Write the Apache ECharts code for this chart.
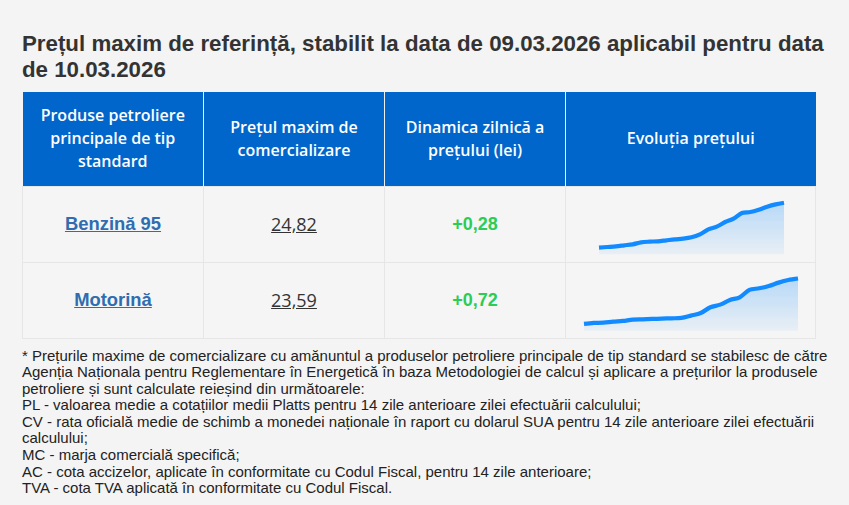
<!DOCTYPE html>
<html>
<head>
<meta charset="utf-8">
<script src="https://cdn.jsdelivr.net/npm/echarts@6/dist/echarts.min.js"></script>
<style>
  html, body { margin:0; padding:0; background:#f4f4f4; width:849px; height:505px; overflow:hidden; }
  #wrap { position:absolute; left:22px; top:31px; width:818px; }
  h2 { margin:0; font-family:"Liberation Sans", Arial, sans-serif; font-weight:bold; font-size:22.3px; line-height:26px; color:#333; }
  table { margin-top:9px; border-collapse:collapse; width:793px; table-layout:fixed; }
  th { background:#0066cc; color:#fff; font-family:"Open Sans", sans-serif; font-weight:600; font-size:16px; line-height:23px; height:94px; padding:0 8px; border-left:1px solid #e9f1fa; border-right:1px solid #e9f1fa; box-sizing:border-box; text-align:center; }
  th:first-child { border-left:none; }
  th:last-child { border-right:none; }
  td { background:#f5f5f5; height:76px; border:1px solid #e6e6e6; padding:0; text-align:center; box-sizing:border-box; position:relative; }
  .prod { font-family:"Liberation Sans", Arial, sans-serif; font-weight:bold; font-size:18.4px; color:#2f6db0; text-decoration:underline; }
  .price { font-family:"Open Sans", sans-serif; font-size:18px; color:#333; text-decoration:underline; }
  .dyn { font-family:"Liberation Sans", Arial, sans-serif; font-weight:bold; font-size:18px; color:#2ecc52; }
  .spark { position:absolute; left:0; top:0; width:250px; height:76px; }
  .note { margin-top:9px; font-family:"Liberation Sans", Arial, sans-serif; font-size:15px; line-height:16.6px; color:#222; }
</style>
</head>
<body>
<div id="wrap">
  <h2 id="title"></h2>
  <table>
    <colgroup><col style="width:181px"><col style="width:181px"><col style="width:181px"><col style="width:250px"></colgroup>
    <thead><tr id="hdr"></tr></thead>
    <tbody id="tb"></tbody>
  </table>
  <div class="note" id="note"></div>
</div>
<script>
// ---- data ----
const titleText = "Prețul maxim de referință, stabilit la data de 09.03.2026 aplicabil pentru data de 10.03.2026";
const headers = ["Produse petroliere principale de tip standard", "Prețul maxim de comercializare", "Dinamica zilnică a prețului (lei)", "Evoluția prețului"];
const products = ["Benzină 95", "Motorină"];
const prices = ["24,82", "23,59"];
const dynamics = ["+0,28", "+0,72"];
const dates = ["15.02","16.02","17.02","18.02","19.02","20.02","21.02","22.02","23.02","24.02","25.02","26.02","27.02","28.02","01.03","02.03","03.03","04.03","05.03","06.03","07.03","08.03","09.03"];
const benzina95 = [20.77,20.83,20.89,20.98,21.07,21.25,21.31,21.34,21.43,21.52,21.58,21.70,21.97,22.42,22.66,23.08,23.38,23.89,23.98,24.19,24.46,24.67,24.82];
const motorina  = [19.48,19.57,19.60,19.69,19.75,19.87,19.90,19.93,19.96,19.99,20.02,20.23,20.47,20.98,21.22,21.64,21.88,22.54,22.69,22.90,23.20,23.44,23.59];
const noteLines = [
  "* Prețurile maxime de comercializare cu amănuntul a produselor petroliere principale de tip standard se stabilesc de către Agenția Naționala pentru Reglementare în Energetică în baza Metodologiei de calcul și aplicare a prețurilor la produsele petroliere și sunt calculate reieșind din următoarele:",
  "PL - valoarea medie a cotațiilor medii Platts pentru 14 zile anterioare zilei efectuării calculului;",
  "CV - rata oficială medie de schimb a monedei naționale în raport cu dolarul SUA pentru 14 zile anterioare zilei efectuării calculului;",
  "MC - marja comercială specifică;",
  "AC - cota accizelor, aplicate în conformitate cu Codul Fiscal, pentru 14 zile anterioare;",
  "TVA - cota TVA aplicată în conformitate cu Codul Fiscal."
];

// ---- build page ----
document.getElementById('title').textContent = titleText;
const hdr = document.getElementById('hdr');
headers.forEach(h => { const th = document.createElement('th'); th.textContent = h; hdr.appendChild(th); });
const tb = document.getElementById('tb');
const seriesData = [benzina95, motorina];
const gridPos = [
  {left:33, top:15.7, width:185, height:51.6},
  {left:18, top:15.3, width:214, height:52.4}
];
products.forEach((p, i) => {
  const tr = document.createElement('tr');
  tr.innerHTML = '<td><span class="prod"></span></td><td><span class="price"></span></td><td><span class="dyn"></span></td><td><div class="spark"></div></td>';
  tr.querySelector('.prod').textContent = p;
  tr.querySelector('.price').textContent = prices[i];
  tr.querySelector('.dyn').textContent = dynamics[i];
  tb.appendChild(tr);
});
const noteEl = document.getElementById('note');
noteLines.forEach(l => { const d = document.createElement('div'); d.textContent = l; noteEl.appendChild(d); });

// ---- sparklines ----
document.querySelectorAll('.spark').forEach((el, i) => {
  const data = seriesData[i];
  const mx = Math.max.apply(null, data), mn = Math.min.apply(null, data);
  const chart = echarts.init(el, null, {renderer:'canvas'});
  chart.setOption({
    animation:false,
    grid: gridPos[i],
    xAxis: { type:'category', data:dates, boundaryGap:false, show:false },
    yAxis: { type:'value', min: mn - (mx - mn) * 0.148, max: mx, show:false },
    series: [{
      type:'line', data:data, smooth:0.3, symbol:'none',
      lineStyle:{ color:'#118bff', width:4.2 },
      areaStyle:{ color: new echarts.graphic.LinearGradient(0,0,0,1,[
        {offset:0, color:'rgba(24,144,255,0.40)'},
        {offset:1, color:'rgba(24,144,255,0.08)'}
      ])}
    }]
  });
});
</script>
</body>
</html>
